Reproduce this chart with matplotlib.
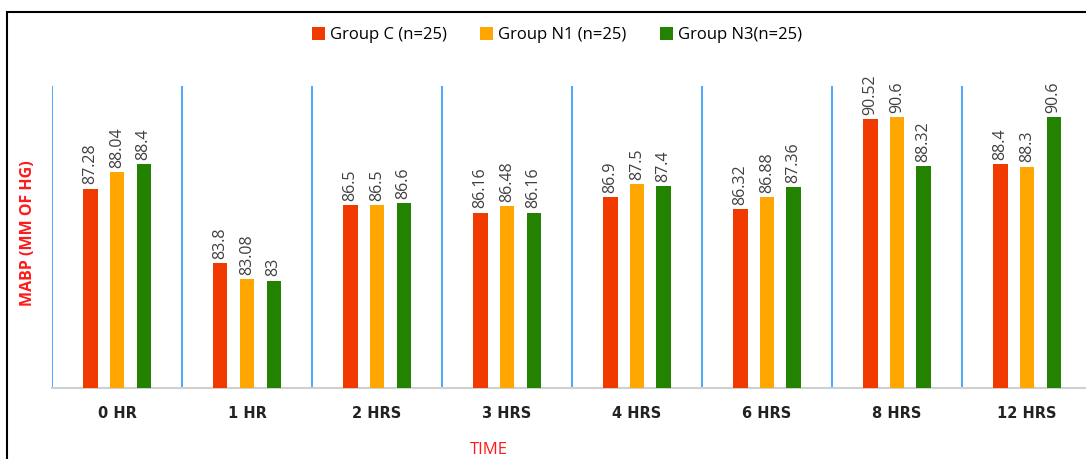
import matplotlib
matplotlib.use("Agg")
import matplotlib.pyplot as plt
from matplotlib.patches import Rectangle
import numpy as np

categories = ["0 HR", "1 HR", "2 HRS", "3 HRS", "4 HRS", "6 HRS", "8 HRS", "12 HRS"]
series_names = ["Group C (n=25)", "Group N1 (n=25)", "Group N3(n=25)"]
group_c = [87.28, 83.8, 86.5, 86.16, 86.9, 86.32, 90.52, 88.4]
group_n1 = [88.04, 83.08, 86.5, 86.48, 87.5, 86.88, 90.6, 88.3]
group_n3 = [88.4, 83.0, 86.6, 86.16, 87.4, 87.36, 88.32, 90.6]
colors = ["#F03A00", "#FFA600", "#238200"]

plt.rcParams['font.family'] = ['Open Sans', 'DejaVu Sans']

W, H = 1086, 459
fig = plt.figure(figsize=(W / 100, H / 100), dpi=100)
ax = fig.add_axes([52 / W, 1 - 388 / H, 1040 / W, 302 / H])

x = np.arange(len(categories))
bw = 0.108
off = 0.204
for i, (vals, c, name) in enumerate(zip([group_c, group_n1, group_n3], colors, series_names)):
    pos = x + (i - 1) * off
    ax.bar(pos, vals, width=bw, color=c, label=name, zorder=3)
    for p, v in zip(pos, vals):
        ax.annotate(f"{v:g}", (p, v), xytext=(0, 3), textcoords="offset points",
                    rotation=90, ha="center", va="bottom", fontsize=11.5, color="#404040")

ax.set_xlim(-0.5, len(categories) - 0.5)
ax.set_ylim(78, 92.05)
for b in np.arange(-0.5, len(categories), 1.0):
    ax.axvline(b, color="#3FA0FF", lw=1.3, zorder=2)

for s in ["top", "right", "left"]:
    ax.spines[s].set_visible(False)
ax.spines["bottom"].set_color("#D0D0D0")
ax.spines["bottom"].set_linewidth(1.5)
ax.set_yticks([])
ax.set_xticks(x)
ax.set_xticklabels(categories, fontsize=10.5, fontweight="semibold", color="#222222",
                   family=["DejaVu Sans"])
ax.tick_params(axis="x", length=0, pad=13)

fig.text(28 / W, 1 - 233 / H, "MABP (MM OF HG)", rotation=90, color="#FF1A1A",
         fontsize=11.5, fontweight="bold", ha="center", va="center")
fig.text(489 / W, 1 - 450 / H, "TIME", color="#FF1A1A", fontsize=12,
         ha="center", va="center")

fig.legend(loc="center", bbox_to_anchor=(557 / W, 1 - 35 / H), ncol=3,
           frameon=False, fontsize=12, handlelength=0.8, handleheight=0.8,
           handletextpad=0.3, columnspacing=2.0)

border = Rectangle((7 / W, -0.1), 1.2, 1 - 12 / H + 0.1, transform=fig.transFigure,
                   fill=False, edgecolor="black", lw=1.5, clip_on=False)
fig.patches.append(border)

fig.savefig("out.png", dpi=100)
